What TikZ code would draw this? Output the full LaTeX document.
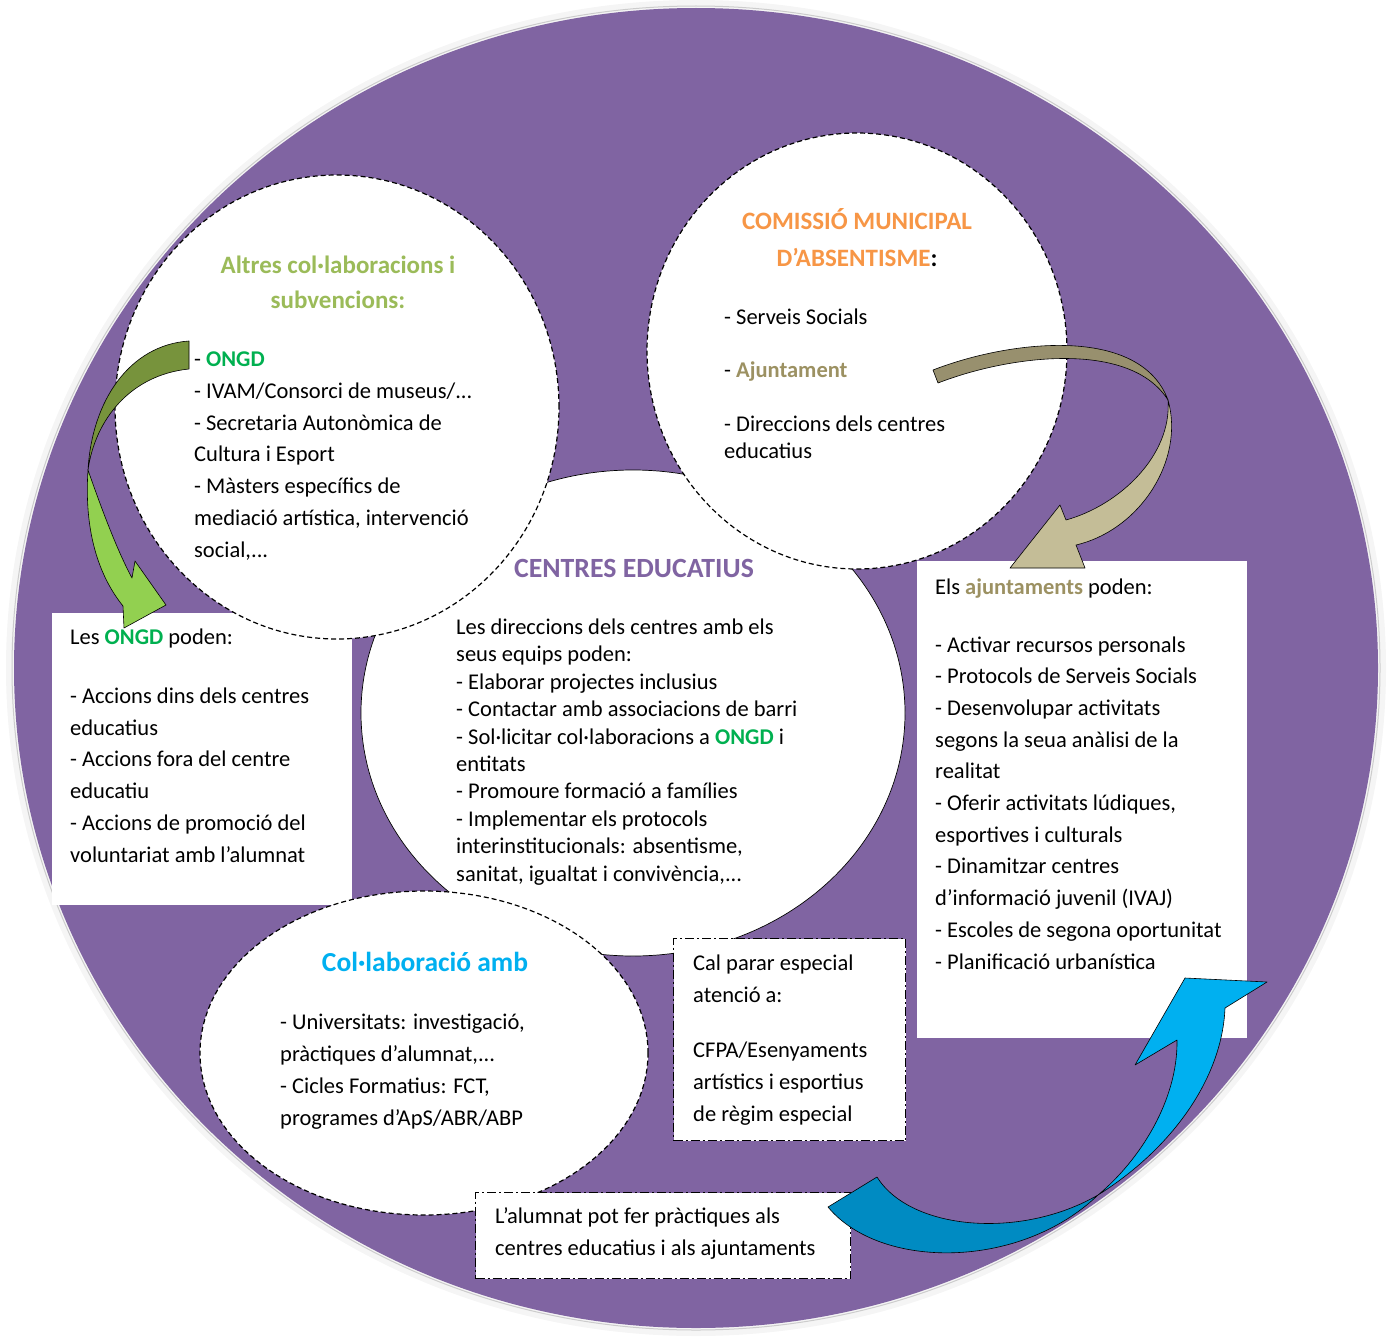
\documentclass[tikz,border=0pt]{standalone}
\usepackage{fontspec}
\setmainfont{Carlito}
\usetikzlibrary{shapes.geometric}

\definecolor{lila}{HTML}{8064A2}
\definecolor{taronja}{HTML}{F79646}
\definecolor{oliva}{HTML}{9BBB59}
\definecolor{verdongd}{HTML}{00B050}
\definecolor{bru}{HTML}{9C9162}
\definecolor{cel}{HTML}{00B0F0}
\definecolor{verdfosc}{HTML}{77933C}
\definecolor{verdclar}{HTML}{92D050}
\definecolor{brufosc}{HTML}{98906E}
\definecolor{bruclar}{HTML}{C4BD97}
\definecolor{blaufosc}{HTML}{008BC2}

\newcommand{\ongd}{\textbf{\color{verdongd}ONGD}}

\begin{document}
\begin{tikzpicture}[x=1pt,y=-1pt,
  cercle/.style={ellipse,fill=white,draw=black,line width=1.2pt,dash pattern=on 5pt off 3pt,inner sep=0pt},
  caixa/.style={rectangle,fill=white,draw=none,inner sep=0pt,anchor=north west},
  ratlla/.style={rectangle,fill=white,draw=black,line width=1.3pt,dash pattern=on 9pt off 3pt on 2pt off 3pt,inner sep=0pt,anchor=north west},
  cos/.style={font=\fontsize{22.5}{31.7}\selectfont,align=left,anchor=base west,inner sep=0pt},
  titol/.style={font=\fontsize{25}{35}\selectfont\bfseries,align=center,anchor=base,inner sep=0pt},
  fletxa/.style={draw=black,line width=0.6pt,line join=round}]
\useasboundingbox (0,0) rectangle (1392,1338);

% fons
\fill[gray!8] (696,668) ellipse [x radius=690pt, y radius=668pt];
\draw[gray!40, line width=1pt] (696,668) ellipse [x radius=684pt, y radius=662pt];
\fill[lila] (696,668) ellipse [x radius=682pt, y radius=660pt];

% cercles i caixes
\node[ellipse,fill=white,draw=black,line width=0.7pt,minimum width=544pt,minimum height=486pt,inner sep=0pt] (centres) at (633,713) {};
\node[caixa, minimum width=300pt, minimum height=292pt] (caixaongd) at (52,613) {};
\node[cercle, minimum width=444pt, minimum height=464pt] (altres) at (337,407) {};
\node[cercle, minimum width=420pt, minimum height=436pt] (comissio) at (857,351) {};
\node[caixa, minimum width=330pt, minimum height=477pt] (caixaajunt) at (917,561) {};
\node[cercle, minimum width=448pt, minimum height=324pt] (collab) at (424,1053) {};
\node[ratlla, minimum width=232pt, minimum height=202pt] (caixacal) at (673,938) {};
\node[ratlla, minimum width=375pt, minimum height=86pt] (caixaalumnat) at (475,1192) {};

% fletxa verda
\draw[fletxa, fill=verdfosc] (189,341) .. controls (130,345) and (92,400) .. (88,470) .. controls (95,420) and (130,375) .. (189,369) -- cycle;
\draw[fletxa, fill=verdclar] (88,470) .. controls (102,510) and (117,550) .. (132,578) -- (135,561) -- (166,605) -- (124,628) -- (123,606) .. controls (98,575) and (84,530) .. (88,470) -- cycle;

% fletxa bru
\draw[fletxa, fill=brufosc] (933,370) .. controls (1010,340) and (1140,325) .. (1168,400) .. controls (1130,340) and (1010,355) .. (938,383) -- cycle;
\draw[fletxa, fill=bruclar] (1168,400) .. controls (1185,460) and (1140,530) .. (1076,545) -- (1085,568) -- (1010,568) -- (1060,505) -- (1066,520) .. controls (1120,505) and (1172,455) .. (1168,400) -- cycle;

% fletxa blava
\draw[fletxa, fill=blaufosc] (828,1207) .. controls (880,1270) and (1020,1270) .. (1098,1195) .. controls (1020,1240) and (910,1230) .. (877,1177) -- cycle;
\draw[fletxa, fill=cel] (1098,1195) .. controls (1170,1150) and (1222,1080) .. (1225,1008) -- (1267,982) -- (1185,978) -- (1135,1065) -- (1177,1040) .. controls (1178,1100) and (1140,1160) .. (1098,1195) -- cycle;

% textos (base = ultima linia)
\node[titol, text=oliva] (titolaltres) at (338,308) {Altres col·laboracions i\\subvencions:};
\node[cos] (llistaaltres) at (194,557) {- \ongd\\- IVAM/Consorci de museus/...\\- Secretaria Autonòmica de\\Cultura i Esport\\- Màsters específics de\\mediació artística, intervenció\\social,...};

\node[titol, text=taronja, font=\fontsize{25}{37}\selectfont\bfseries] (titolcomissio) at (857,266) {COMISSIÓ MUNICIPAL\\D'ABSENTISME\textcolor{black}{:}};
\node[cos, font=\fontsize{22.5}{26.7}\selectfont] (llistacomissio) at (724,458) {- Serveis Socials\\[26.7pt]- \textbf{\color{bru}Ajuntament}\\[26.7pt]- Direccions dels centres\\educatius};

\node[titol, text=lila, font=\fontsize{27.8}{35}\selectfont\bfseries] (titolcentres) at (634,577) {CENTRES EDUCATIUS};
\begin{scope}
\clip (350,560) rectangle (910,884);
\node[cos, font=\fontsize{22.5}{27.4}\selectfont] (llistacentres) at (456,881) {Les direccions dels centres amb els\\seus equips poden:\\- Elaborar projectes inclusius\\- Contactar amb associacions de barri\\- Sol·licitar col·laboracions a \ongd{} i\\entitats\\- Promoure formació a famílies\\- Implementar els protocols\\interinstitucionals: absentisme,\\sanitat, igualtat i convivència,...};
\end{scope}

\node[cos] (textongd) at (70,862) {Les \ongd{} poden:\\[27.3pt]- Accions dins dels centres\\educatius\\- Accions fora del centre\\educatiu\\- Accions de promoció del\\voluntariat amb l'alumnat};

\node[cos] (textajunt) at (935,969) {Els \textbf{\color{bru}ajuntaments} poden:\\[26.3pt]- Activar recursos personals\\- Protocols de Serveis Socials\\- Desenvolupar activitats\\segons la seua anàlisi de la\\realitat\\- Oferir activitats lúdiques,\\esportives i culturals\\- Dinamitzar centres\\d'informació juvenil (IVAJ)\\- Escoles de segona oportunitat\\- Planificació urbanística};

\node[titol, text=cel, font=\fontsize{27.5}{35}\selectfont\bfseries] (titolcollab) at (425,971) {Col·laboració amb};
\node[cos, font=\fontsize{22.5}{32}\selectfont] (llistacollab) at (280,1125) {- Universitats: investigació,\\pràctiques d'alumnat,...\\- Cicles Formatius: FCT,\\programes d'ApS/ABR/ABP};

\node[cos, font=\fontsize{22.5}{32}\selectfont] (textcal) at (693,1121) {Cal parar especial\\atenció a:\\[23pt]CFPA/Esenyaments\\artístics i esportius\\de règim especial};

\node[cos, font=\fontsize{22.5}{32}\selectfont] (textalumnat) at (495,1255) {L'alumnat pot fer pràctiques als\\centres educatius i als ajuntaments};

\end{tikzpicture}
\end{document}
